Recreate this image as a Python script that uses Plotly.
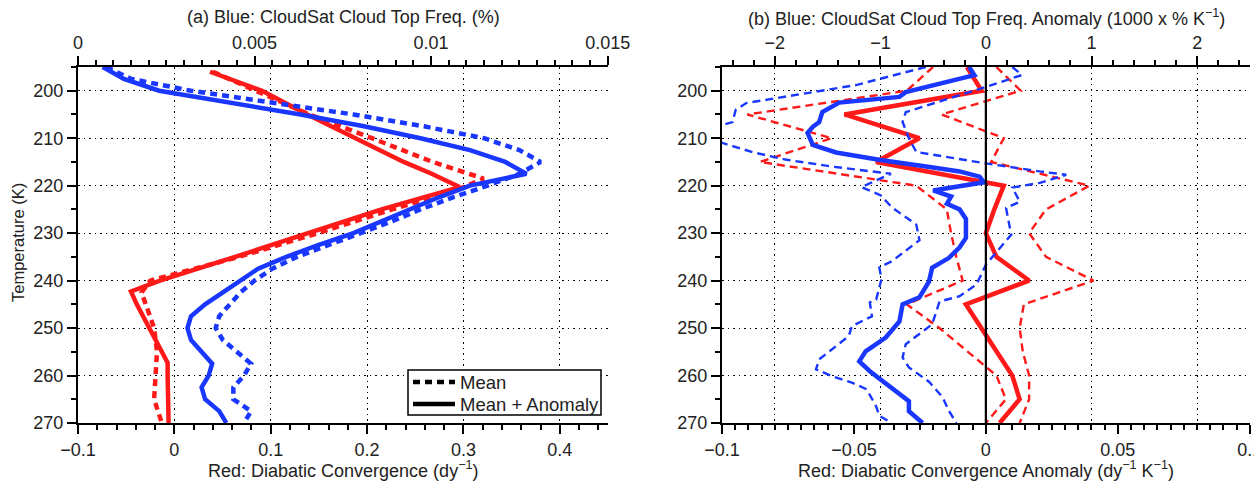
import plotly.graph_objects as go

# ---------------- data ----------------
# Panel (a): temperature levels (K)
T_left = [195, 197.5, 200, 202.5, 205, 207.5, 210, 212.5, 215, 217.5, 220, 222.5, 225,
          227.5, 230, 232.5, 235, 237.5, 240, 242.5, 245, 247.5, 250, 252.5, 255, 257.5,
          260, 262.5, 265, 267.5, 270]
# CloudSat cloud top frequency (%) - mean and mean+anomaly
cs_mean = [0.0008, 0.0015, 0.0032, 0.0055, 0.0078, 0.0098, 0.0115, 0.0125, 0.0131, 0.0125,
           0.0116, 0.0106, 0.0097, 0.0089, 0.0080, 0.0071, 0.0062, 0.0055, 0.0050, 0.0046,
           0.0043, 0.0040, 0.0039, 0.0041, 0.0045, 0.0049, 0.0047, 0.0044, 0.0044, 0.0049,
           0.0047]
cs_total = [0.0007, 0.0013, 0.0023, 0.0043, 0.0063, 0.0081, 0.0097, 0.0111, 0.0121, 0.0127,
            0.0111, 0.0102, 0.0094, 0.0086, 0.0078, 0.0068, 0.0059, 0.0051, 0.0046, 0.0041,
            0.0036, 0.0032, 0.0031, 0.0032, 0.0035, 0.0038, 0.0037, 0.0035, 0.0036, 0.0040,
            0.0042]
# Diabatic convergence (dy^-1)
T_red_left = [196, 200, 205, 210, 215, 218.5, 221, 225, 230, 235, 240, 242.5, 245, 250,
              255, 257.5, 260, 265, 270]
dc_mean = [0.040, 0.085, 0.140, 0.205, 0.268, 0.321, 0.292, 0.226, 0.149, 0.067, -0.025,
           -0.034, -0.030, -0.021, -0.018, -0.019, -0.020, -0.021, -0.013]
T_red_left_tot = [196, 200, 205, 210, 215, 217.5, 220.3, 225, 230, 235, 240, 242.3, 245, 250,
                  255, 257.3, 260, 265, 270]
dc_total = [0.037, 0.091, 0.138, 0.187, 0.238, 0.267, 0.296, 0.215, 0.140, 0.063, -0.015,
            -0.045, -0.039, -0.026, -0.013, -0.007, -0.007, -0.007, -0.006]

# Panel (b): CloudSat anomaly (1000 x % K^-1)
T_cs_anom = [195, 196.7, 200.3, 201.3, 202.5, 204.5, 206.6, 207.6, 208.9, 211.4, 213, 214.6,
             216, 217, 218.1, 219.3, 221, 222.3, 223.8, 225, 227, 231, 233, 235.2, 237.3,
             240.2, 243.5, 245, 248.6, 252, 254.9, 257, 259.1, 264.6, 265.4, 267.5, 270]
cs_anom = [-0.16, -0.11, -0.76, -0.82, -1.39, -1.55, -1.58, -1.64, -1.69, -1.64, -1.42, -1.0,
           -0.55, -0.25, -0.06, -0.02, -0.5, -0.33, -0.37, -0.25, -0.19, -0.19, -0.25, -0.35,
           -0.51, -0.54, -0.63, -0.79, -0.82, -0.95, -1.14, -1.2, -1.1, -0.79, -0.73, -0.73,
           -0.6]
T_cs_lo = [195, 198.8, 202.6, 204, 206.6, 207.6, 209.3, 211, 213, 214.5, 216, 217.5, 220.3,
           222, 224.6, 228.2, 231.5, 235.9, 237.2, 239.7, 244, 244.6, 247.5, 249.6, 251.7,
           256.6, 258.7, 260.1, 261.5, 262.9, 266.5, 268.5, 270]
cs_anom_lo = [-0.57, -1.23, -2.27, -2.37, -2.4, -2.55, -2.75, -2.5, -2.2, -1.9, -1.45, -0.9,
              -1.18, -1.0, -0.89, -0.66, -0.63, -0.89, -1.01, -0.99, -1.04, -1.1, -1.08,
              -1.27, -1.3, -1.58, -1.61, -1.46, -1.27, -1.13, -1.04, -1.01, -0.89]
T_cs_hi = [195, 196.7, 199.4, 204.5, 206.6, 210, 212.9, 215.2, 217, 217.7, 219.4, 220.4,
           223.4, 224.7, 228.2, 230.3, 236.6, 240.8, 243.3, 244.4, 249.2, 253.4, 256.2,
           258.3, 261.3, 264.6, 267.5, 270]
cs_anom_hi = [0.25, 0.34, -0.03, -0.76, -0.79, -0.73, -0.66, -0.03, 0.51, 0.76, 0.51, 0.25,
              0.32, 0.19, 0.22, 0.24, 0.0, -0.09, -0.25, -0.44, -0.51, -0.76, -0.79, -0.73,
              -0.54, -0.41, -0.35, -0.28]
# Diabatic convergence anomaly (dy^-1 K^-1)
T_red_right = [195, 200, 205, 210, 215, 220, 225, 230, 235, 240, 245, 250, 255, 260, 265, 270]
dc_anom = [-0.0072, -0.0016, -0.0536, -0.0252, -0.0416, 0.0068, 0.0032, 0.0, 0.004, 0.0164,
           -0.0076, -0.0016, 0.0044, 0.010, 0.0128, 0.0052]
dc_anom_hi = [0.004, 0.0132, -0.0168, 0.0068, 0.002, 0.0392, 0.0228, 0.0164, 0.0228, 0.0408,
              0.0144, 0.0128, 0.014, 0.0164, 0.0164, 0.0128]
dc_anom_lo = [-0.02, -0.03, -0.0904, -0.0584, -0.0856, -0.0264, -0.0148, -0.0132, -0.0112,
              -0.0088, -0.03, -0.0176, -0.0068, 0.004, 0.0076, 0.0]

legend_labels = ["Mean", "Mean + Anomaly"]

# ---------------- style ----------------
BLUE = "rgb(25,55,255)"
RED = "rgb(255,25,25)"
FONT = "Liberation Sans, Arial, sans-serif"
TXT = "#222222"
W, H = 1254, 487

fig = go.Figure()

thick = 4.5
thin = 2.4
dash_thick = "7px,5px"
dash_thin = "8px,5px"

# Panel (a)
fig.add_trace(go.Scatter(x=cs_mean, y=T_left, xaxis="x3", yaxis="y", mode="lines",
                         line=dict(color=BLUE, width=thick, dash=dash_thick)))
fig.add_trace(go.Scatter(x=cs_total, y=T_left, xaxis="x3", yaxis="y", mode="lines",
                         line=dict(color=BLUE, width=thick)))
fig.add_trace(go.Scatter(x=dc_mean, y=T_red_left, xaxis="x", yaxis="y", mode="lines",
                         line=dict(color=RED, width=thick, dash=dash_thick)))
fig.add_trace(go.Scatter(x=dc_total, y=T_red_left_tot, xaxis="x", yaxis="y", mode="lines",
                         line=dict(color=RED, width=thick)))

# Panel (b)
for xs, ts in ((cs_anom_lo, T_cs_lo), (cs_anom_hi, T_cs_hi)):
    fig.add_trace(go.Scatter(x=xs, y=ts, xaxis="x4", yaxis="y2", mode="lines",
                             line=dict(color=BLUE, width=thin, dash=dash_thin)))
for xs in (dc_anom_lo, dc_anom_hi):
    fig.add_trace(go.Scatter(x=xs, y=T_red_right, xaxis="x2", yaxis="y2", mode="lines",
                             line=dict(color=RED, width=thin, dash=dash_thin)))
fig.add_trace(go.Scatter(x=cs_anom, y=T_cs_anom, xaxis="x4", yaxis="y2", mode="lines",
                         line=dict(color=BLUE, width=thick)))
fig.add_trace(go.Scatter(x=dc_anom, y=T_red_right, xaxis="x2", yaxis="y2", mode="lines",
                         line=dict(color=RED, width=thick)))

dom_a = [78 / W, 608 / W]
dom_b = [722 / W, 1250 / W]
dom_y = [(H - 423) / H, (H - 67) / H]

tickfont = dict(family=FONT, size=18, color=TXT)
GRID = dict(showgrid=True, gridcolor="black", gridwidth=1, griddash="1.5px,4px")
NOGRID = dict(showgrid=False)


def axis_common(**kw):
    d = dict(showline=True, linecolor="black", linewidth=2, ticks="outside", ticklen=9,
             tickwidth=2, tickcolor="black", zeroline=False, tickfont=tickfont,
             automargin=False, ticklabeloverflow="allow")
    d.update(kw)
    return d


def minor(dt):
    return dict(dtick=dt, ticks="outside", ticklen=5, tickwidth=1.5, tickcolor="black",
                showgrid=False)


def px(x):
    return x / W


def py(y):
    return 1 - y / H


shapes = [
    # zero line in panel (b)
    dict(type="line", xref="x2", yref="y2 domain", x0=0, x1=0, y0=0, y1=1,
         line=dict(color="black", width=2.2), layer="above"),
    # legend box
    dict(type="rect", xref="paper", yref="paper", x0=px(408), x1=px(601), y0=py(415),
         y1=py(370), line=dict(color="black", width=1.5), fillcolor="white", layer="above"),
    dict(type="line", xref="paper", yref="paper", x0=px(413), x1=px(455), y0=py(382),
         y1=py(382), line=dict(color="black", width=thick, dash=dash_thick), layer="above"),
    dict(type="line", xref="paper", yref="paper", x0=px(413), x1=px(455), y0=py(404),
         y1=py(404), line=dict(color="black", width=thick), layer="above"),
]

fig.update_layout(
    width=W, height=H,
    margin=dict(l=0, r=0, t=0, b=0, autoexpand=False),
    paper_bgcolor="white", plot_bgcolor="white",
    showlegend=False,
    font=dict(family=FONT, color=TXT),
    xaxis=axis_common(domain=dom_a, range=[-0.1, 0.45], anchor="y", side="bottom",
                      tick0=0, dtick=0.1, minor=minor(0.02), **GRID),
    xaxis3=axis_common(overlaying="x", anchor="y", side="top", range=[0, 0.01501],
                       tick0=0, dtick=0.005, minor=minor(0.0005), **NOGRID),
    yaxis=axis_common(domain=dom_y, range=[270, 195], anchor="x", tick0=200, dtick=10,
                      minor=minor(5), **GRID),
    xaxis2=axis_common(domain=dom_b, range=[-0.1, 0.1001], anchor="y2", side="bottom",
                       tick0=0, dtick=0.05, minor=minor(0.005), **NOGRID),
    xaxis4=axis_common(overlaying="x2", anchor="y2", side="top", range=[-2.5, 2.5],
                       tick0=0, dtick=1, minor=minor(0.2), **GRID),
    yaxis2=axis_common(domain=dom_y, range=[270, 195], anchor="x2", tick0=200, dtick=10,
                       minor=minor(5), **GRID),
    shapes=shapes,
)

ann_font = dict(family=FONT, size=18, color=TXT)
cx_a = (dom_a[0] + dom_a[1]) / 2
cx_b = (dom_b[0] + dom_b[1]) / 2


def note(x, y, text, size=18, **kw):
    fig.add_annotation(x=x, y=y, xref="paper", yref="paper", showarrow=False,
                       xanchor=kw.pop("xanchor", "center"), yanchor="middle", text=text,
                       font=dict(family=FONT, size=size, color=TXT), **kw)


note(cx_a, py(17), "(a) Blue: CloudSat Cloud Top Freq. (%)")
note(cx_b, py(17), "(b) Blue: CloudSat Cloud Top Freq. Anomaly (1000 x % K<sup>\u22121</sup>)")
note(cx_a, py(469), "Red: Diabatic Convergence (dy<sup>\u22121</sup>)")
note(cx_b, py(469), "Red: Diabatic Convergence Anomaly (dy<sup>\u22121</sup> K<sup>\u22121</sup>)")
note(px(18), py(243), "Temperature (K)", size=16.5, textangle=-90)
note(px(458), py(382), legend_labels[0], size=18.5, xanchor="left")
note(px(458), py(404), legend_labels[1], size=18.5, xanchor="left")

fig.write_html("out.html")
